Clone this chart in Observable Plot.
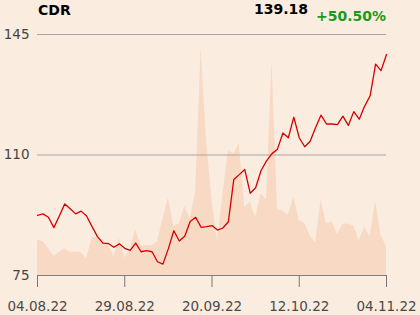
<!DOCTYPE html>
<html>
<head>
<meta charset="utf-8">
<script src="https://cdn.jsdelivr.net/npm/d3@7"></script>
<script src="https://cdn.jsdelivr.net/npm/@observablehq/plot@0.6"></script>
<style>
  html, body { margin: 0; padding: 0; background: #fbece0; }
  #wrap { position: relative; width: 420px; height: 315px; overflow: hidden; font-family: "DejaVu Sans", sans-serif; }
  .hdr { position: absolute; font-weight: bold; font-size: 14px; white-space: nowrap; }
</style>
</head>
<body>
<div id="wrap">
  <div class="hdr" id="ticker" style="left:38px; top:2px; color:#000;"></div>
  <div class="hdr" id="last" style="right:112px; top:1px; color:#000;"></div>
  <div class="hdr" id="chg" style="right:34px; top:8px; color:#1a9a1a;"></div>
</div>
<script>
const ticker = "CDR";
const lastPrice = "139.18";
const change = "+50.50%";

const tickIndex = [0, 16, 32, 48, 64];
const tickLabels = ["04.08.22", "29.08.22", "20.09.22", "12.10.22", "04.11.22"];
const yTicks = [75, 110, 145];

const price = [
  92.48, 92.9, 91.9, 88.9, 92.3, 95.8, 94.4, 92.9, 93.7, 92.3,
  89.2, 86.3, 84.4, 84.3, 83.2, 84.2, 82.9, 82.3, 84.4, 81.9,
  82.2, 81.9, 79.0, 78.3, 82.8, 88.0, 85.0, 86.4, 90.7, 91.9,
  89.0, 89.2, 89.5, 88.2, 88.8, 90.6, 102.9, 104.3, 105.8, 98.9,
  100.5, 105.5, 108.3, 110.4, 111.7, 116.4, 115.0, 121.0, 115.0, 112.4,
  114.0, 118.0, 121.6, 119.0, 119.0, 118.8, 121.3, 118.6, 122.6, 120.4,
  124.2, 127.2, 136.4, 134.5, 139.18
];

const volume = [
  175, 170, 135, 95, 115, 135, 115, 118, 115, 83,
  188, 195, 175, 150, 92, 185, 88, 125, 228, 148,
  150, 148, 168, 283, 387, 245, 258, 345, 283, 415,
  1134, 675, 375, 175, 400, 625, 608, 658, 342, 367,
  292, 408, 378, 1072, 333, 322, 300, 392, 275, 262,
  200, 162, 378, 258, 270, 205, 255, 258, 248, 175,
  242, 192, 372, 200, 145
];

document.getElementById("ticker").textContent = ticker;
document.getElementById("last").textContent = lastPrice;
document.getElementById("chg").textContent = change;

const yMin = 75, yMax = 145;
const volMax = d3.max(volume);
const data = price.map((p, i) => ({ i, p, v: volume[i], vy: yMin + volume[i] / volMax * 0.94 * (yMax - yMin) }));
const labelOf = new Map(tickIndex.map((t, k) => [t, tickLabels[k]]));

const chart = Plot.plot({
  width: 420,
  height: 315,
  marginLeft: 37,
  marginRight: 34,
  marginTop: 34,
  marginBottom: 40,
  style: { background: "transparent", fontFamily: "DejaVu Sans, sans-serif", fontSize: "13.5px", color: "#444" },
  x: { domain: [0, price.length - 1] },
  y: { domain: [yMin, yMax] },
  marks: [
    Plot.areaY(data, { x: "i", y1: yMin, y2: "vy", fill: "#f7d9c4", curve: "linear" }),
    Plot.ruleY([110, 145], { stroke: "#aaa5a0", strokeWidth: 1 }),
    Plot.ruleY([75], { stroke: "#808080", strokeWidth: 1 }),
    Plot.lineY(data, { x: "i", y: "p", stroke: "#d60000", strokeWidth: 1.3 }),
    Plot.axisY({ ticks: yTicks, tickSize: 0, tickPadding: 8, label: null, fill: "#444" }),
    Plot.axisX({ ticks: tickIndex, tickFormat: d => labelOf.get(d), tickSize: 12, tickPadding: 14, label: null, stroke: "#777", fill: "#4a4a4a" })
  ]
});
document.getElementById("wrap").prepend(chart);
chart.style.position = "absolute";
chart.style.left = "0";
chart.style.top = "0";
</script>
</body>
</html>
